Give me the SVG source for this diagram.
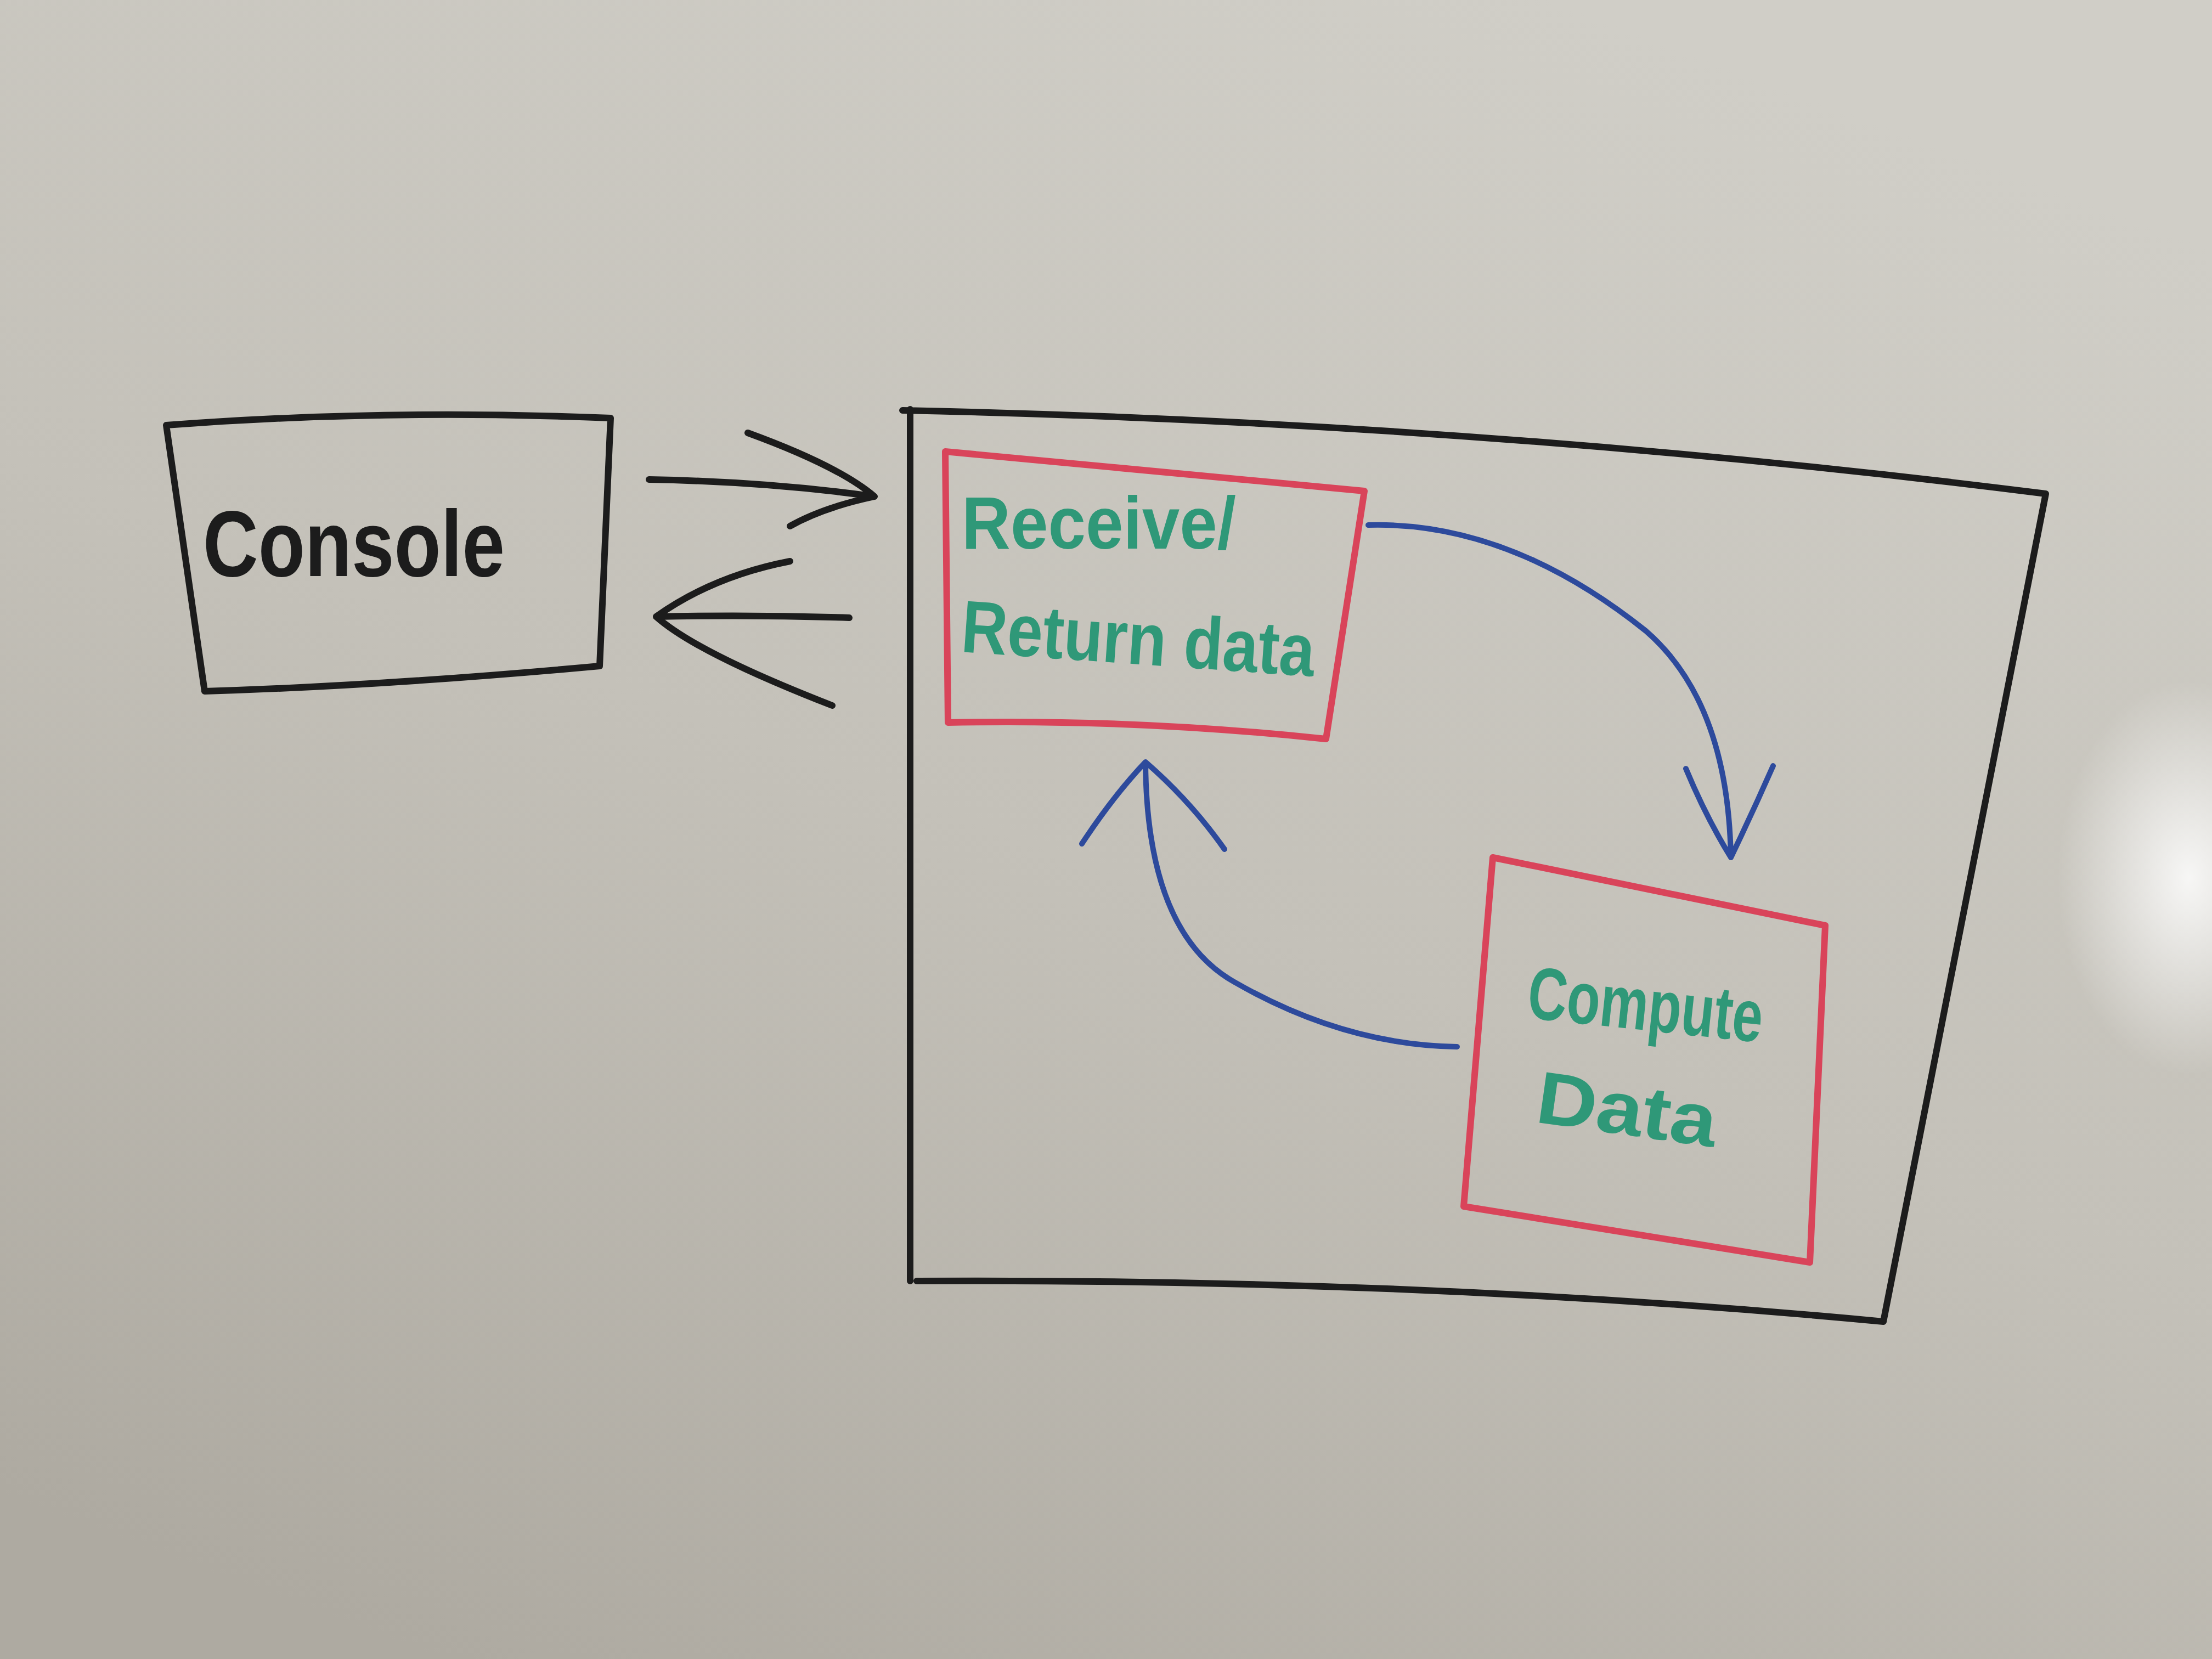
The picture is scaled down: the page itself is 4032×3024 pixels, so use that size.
<svg xmlns="http://www.w3.org/2000/svg" width="4032" height="3024" viewBox="0 0 4032 3024">
<defs>
<linearGradient id="bg" x1="0.7" y1="0" x2="0.2" y2="1">
<stop offset="0" stop-color="#d0cec7"/>
<stop offset="0.5" stop-color="#c4c1b9"/>
<stop offset="1" stop-color="#aeaaa1"/>
</linearGradient>
<radialGradient id="glare" cx="3990" cy="1600" r="300" gradientUnits="userSpaceOnUse" gradientTransform="translate(3990 1600) scale(0.8 1.2) translate(-3990 -1600)">
<stop offset="0" stop-color="#ffffff" stop-opacity="0.85"/>
<stop offset="1" stop-color="#ffffff" stop-opacity="0"/>
</radialGradient>
<style>
.blk{fill:none;stroke:#1c1c1c;stroke-width:12;stroke-linecap:round;stroke-linejoin:round}
.red{fill:none;stroke:#d9445a;stroke-width:12;stroke-linecap:round;stroke-linejoin:round}
.blu{fill:none;stroke:#2d4a9c;stroke-width:10;stroke-linecap:round;stroke-linejoin:round}
.lbl{font-family:"Liberation Sans",Arial,sans-serif;font-weight:bold}
.grn{fill:#2f9878}
</style>
</defs>
<rect x="0" y="0" width="4032" height="3024" fill="url(#bg)"/>
<rect x="3550" y="1150" width="482" height="900" fill="url(#glare)"/>

<g id="console">
<path class="blk" d="M303 775 Q700 745 1113 762 L1093 1214 Q700 1250 373 1260 Z"/>
<text class="lbl" x="370" y="1050" font-size="170" textLength="550" lengthAdjust="spacingAndGlyphs" fill="#1c1c1c">Console</text>
</g>

<g id="system">
<path class="blk" d="M1659 746 L1659 2335 M1645 748 Q2700 770 3729 900 L3433 2409 Q2600 2330 1671 2335"/>
</g>

<g id="receive">
<path class="red" d="M1723 823 Q2100 860 2487 895 L2417 1347 Q2070 1310 1728 1317 Z"/>
<text class="lbl grn" x="1753" y="1000" font-size="135" textLength="500" lengthAdjust="spacingAndGlyphs">Receive/</text>
<text class="lbl grn" x="1750" y="1188" font-size="135" textLength="645" lengthAdjust="spacingAndGlyphs" transform="rotate(4 1750 1188)">Return data</text>
</g>

<g id="compute">
<path class="red" d="M2721 1563 L3327 1687 L3299 2301 L2668 2199 Z"/>
<text class="lbl grn" x="2781" y="1855" font-size="135" textLength="430" lengthAdjust="spacingAndGlyphs" transform="rotate(6 2781 1855)">Compute</text>
<text class="lbl grn" x="2796" y="2045" font-size="135" textLength="330" lengthAdjust="spacingAndGlyphs" transform="rotate(8 2796 2045)">Data</text>
</g>

<g id="connectors">
<path class="blk" d="M1183 874 Q1400 878 1594 905 M1363 789 Q1530 850 1594 905 Q1500 925 1440 959"/>
<path class="blk" d="M1548 1126 Q1370 1120 1196 1124 M1440 1023 Q1300 1050 1196 1124 Q1270 1190 1517 1286"/>
<path class="blu" d="M2494 957 Q2750 950 3000 1150 Q3150 1280 3155 1563 M3073 1401 Q3110 1490 3155 1563 Q3195 1480 3232 1396"/>
<path class="blu" d="M2656 1908 Q2450 1905 2250 1790 Q2090 1700 2088 1389 M1972 1538 Q2030 1450 2088 1389 Q2170 1460 2232 1548"/>
</g>
</svg>
